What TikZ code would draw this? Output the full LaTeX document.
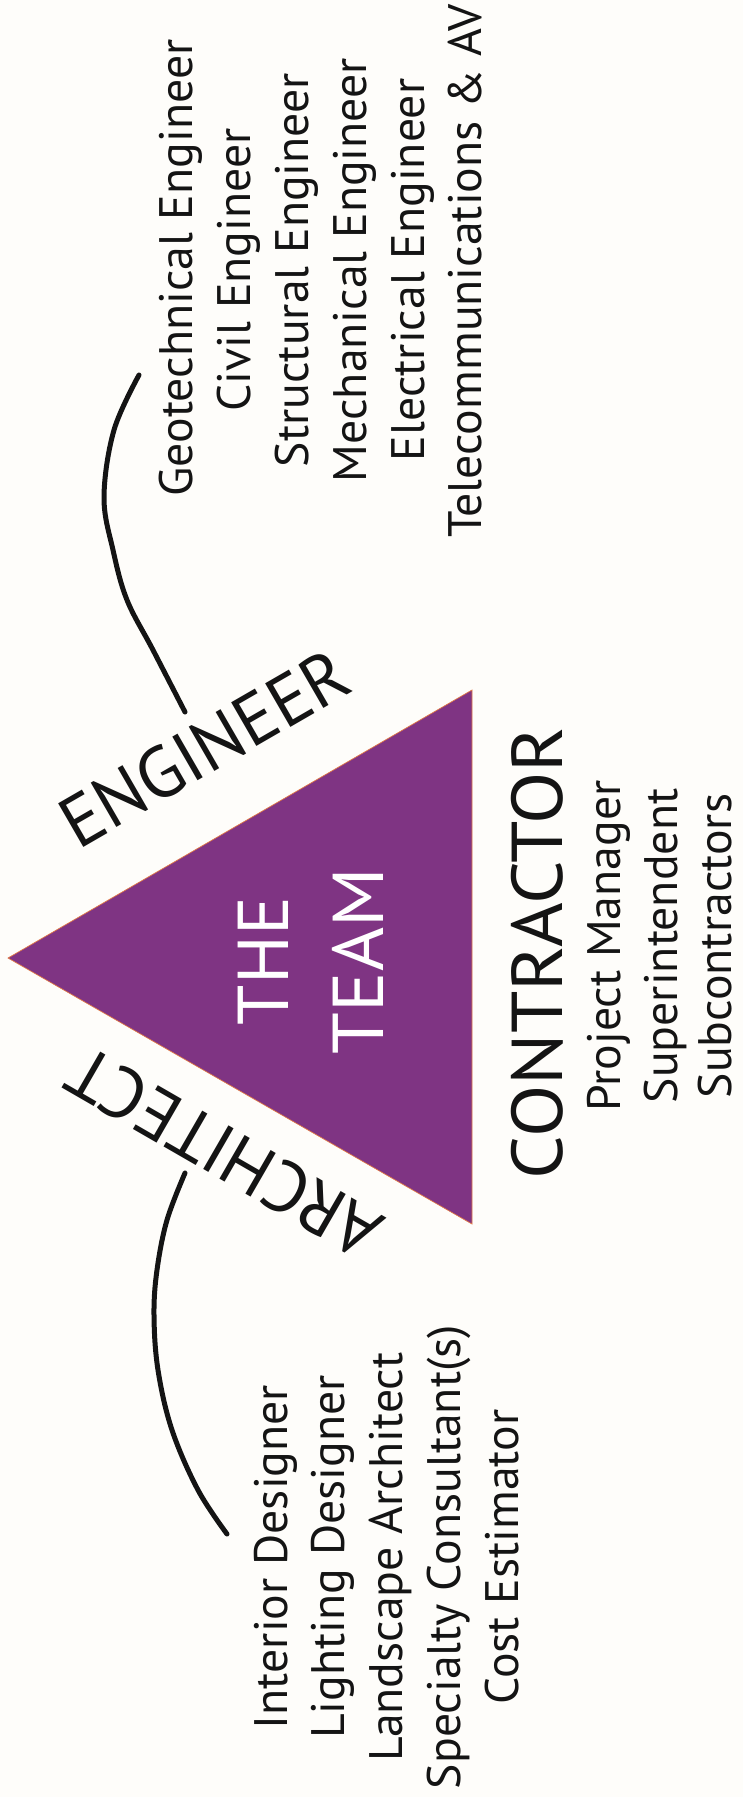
\documentclass[tikz,border=0pt]{standalone}
\usepackage{graphicx}
\usepackage{fontspec}
\setmainfont{PT Sans}
\definecolor{teampurple}{RGB}{127,52,131}
\definecolor{edgeorange}{RGB}{225,120,70}
\definecolor{paper}{RGB}{254,253,250}
\definecolor{ink}{RGB}{20,20,20}
\newlength\fitlen
% scale text horizontally to a given width (in pt)
\newcommand\fitto[2]{\settowidth{\fitlen}{#2}\pgfmathsetmacro\fitfac{#1/\fitlen}\scalebox{\fitfac}[1]{#2}}
% list items share one horizontal factor, set by the longest engineer line
\newcommand\listitem[1]{\settowidth{\fitlen}{Geotechnical Engineer}\pgfmathsetmacro\fitfac{457/\fitlen}\scalebox{\fitfac}[1]{#1}}
\tikzset{
  listtxt/.style={font=\fontsize{47}{56}\selectfont, text=ink, rotate=90, anchor=base, inner sep=0pt},
  biglbl/.style={font=\fontsize{72}{80}\selectfont, text=ink, anchor=base, inner sep=0pt},
  bracket/.style={draw=ink, line width=5pt, line cap=round}
}
\begin{document}
\begin{tikzpicture}[x=1pt,y=-1pt]
\fill[paper] (0,0) rectangle (743,1797);
\useasboundingbox (0,0) rectangle (743,1797);
% triangle
\coordinate (tip) at (8,958);
\coordinate (top) at (472,690);
\coordinate (bot) at (472,1224);
\fill[teampurple, draw=edgeorange, line width=0.7pt] (tip) -- (top) -- (bot) -- cycle;
% centre text
\node[biglbl, text=white, rotate=90] (the) at (288,961) {\fitto{128}{THE}};
\node[biglbl, text=white, rotate=90] (team) at (383,961) {\fitto{186}{TEAM}};
% side labels
\node[biglbl, rotate=30] (eng) at (217,770) {\fitto{321}{ENGINEER}};
\node[biglbl, rotate=150] (arch) at (237,1131) {\fitto{348}{ARCHITECT}};
\node[biglbl, rotate=90] (con) at (562,953) {\fitto{452}{CONTRACTOR}};
% contractor list
\node[listtxt] (pm) at (620,946) {\listitem{Project Manager}};
\node[listtxt] (si) at (677,946) {\listitem{Superintendent}};
\node[listtxt] (sc) at (731,946) {\listitem{Subcontractors}};
% engineer list
\node[listtxt] (e1) at (192,268) {\listitem{Geotechnical Engineer}};
\node[listtxt] (e2) at (250,270) {\listitem{Civil Engineer}};
\node[listtxt] (e3) at (308,270) {\listitem{Structural Engineer}};
\node[listtxt] (e4) at (366,270) {\listitem{Mechanical Engineer}};
\node[listtxt] (e5) at (424,270) {\listitem{Electrical Engineer}};
\node[listtxt] (e6) at (481,271) {\listitem{Telecommunications \& AV}};
% architect list
\node[listtxt] (a1) at (287,1557) {\listitem{Interior Designer}};
\node[listtxt] (a2) at (344,1557) {\listitem{Lighting Designer}};
\node[listtxt] (a3) at (402,1557) {\listitem{Landscape Architect}};
\node[listtxt] (a4) at (460,1557) {\listitem{Specialty Consultant(s)}};
\node[listtxt] (a5) at (518,1557) {\listitem{Cost Estimator}};
% brackets
\coordinate (eA) at (139,375);
\coordinate (eC) at (185,712);
\draw[bracket] plot[smooth, tension=0.6] coordinates {(eA) (114,430) (104,497) (113,550) (127,600) (153,650) (eC)};
\coordinate (aA) at (185,1173);
\coordinate (aC) at (227,1534);
\draw[bracket] plot[smooth, tension=0.6] coordinates {(aA) (167,1220) (157,1270) (154,1315) (158,1370) (172,1430) (198,1490) (aC)};
\end{tikzpicture}
\end{document}
